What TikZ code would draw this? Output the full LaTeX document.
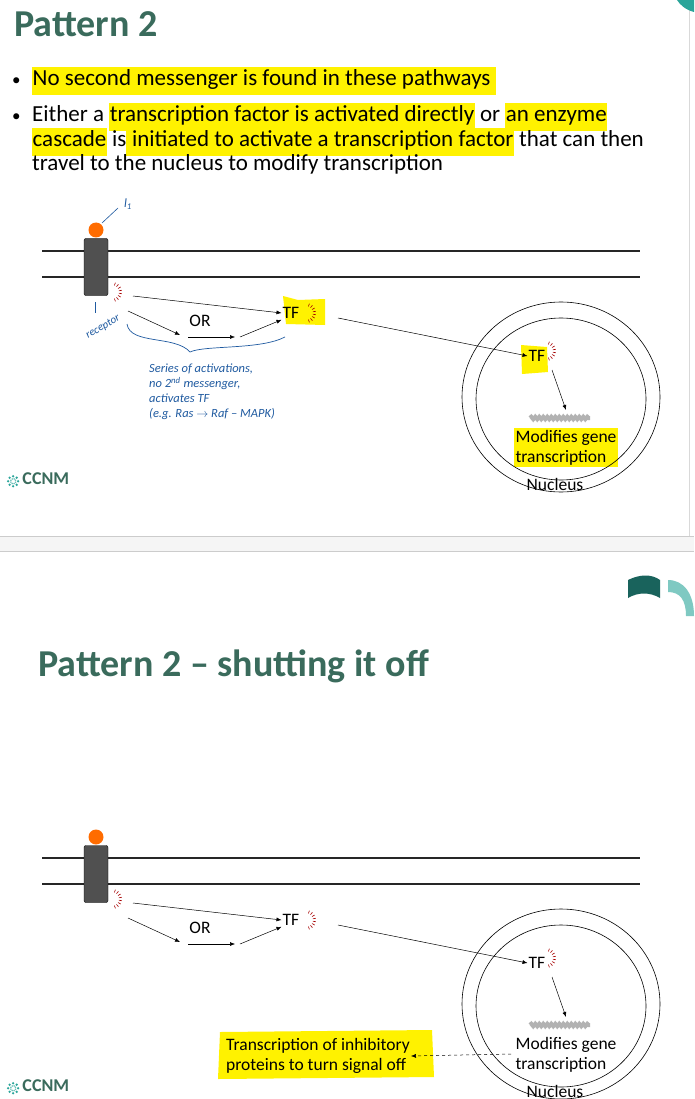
\documentclass[tikz,border=0pt]{standalone}
\usepackage{fontspec}
\setmainfont{Carlito}
\usetikzlibrary{arrows.meta,decorations.pathmorphing,shapes.geometric}
\definecolor{ttl}{HTML}{3A6B5C}
\definecolor{hly}{HTML}{FFF200}
\definecolor{pen}{HTML}{1F5AA0}
\definecolor{teal}{HTML}{2AA59A}
\definecolor{rcp}{HTML}{505050}
\newcommand\hlt[1]{{\setlength{\fboxsep}{0.5pt}\colorbox{hly}{\strut #1}}}
\tikzset{
  ar/.style={-{Latex[length=5pt,width=4pt]},line width=0.5pt},
  lbl/.style={font=\fontsize{17.5}{20}\selectfont,inner sep=1pt},
  hand/.style={font=\fontsize{12.5}{15}\selectfont\itshape,text=pen,inner sep=0pt},
  mem/.style={line width=1.4pt,draw=black!85},
  nuc/.style={draw,line width=0.6pt},
  marks/.pic={\foreach \a in {-70,-50,...,70}{\draw[red!65!black,line width=0.6pt] (\a:7) -- (\a:10);}},
}
\def\ding{\tikz[baseline=-3pt]{\foreach \a in {0,45,...,315}{\fill[teal] (\a:5pt) circle (1.3pt);\fill[teal!70] (\a+22:2.5pt) circle (0.9pt);}}\,}
\newcommand\diagram[1]{%
\begin{scope}[yshift=-#1pt]
 \draw[mem] (42,251) -- (640,251);
 \draw[mem] (42,277) -- (640,277);
 \node[draw=black,fill=rcp,rounded corners=2pt,minimum width=24pt,minimum height=57pt,inner sep=0pt] (rec#1) at (96,267) {};
 \node[circle,fill=orange!85!red,minimum size=15pt,inner sep=0pt] (lig#1) at (96,230) {};
 \pic at (112,292) {marks};
 \node[lbl] (or#1) at (200,321) {OR};
 \node[lbl] (tfa#1) at (291,313) {TF};
 \pic at (306,313) {marks};
 \coordinate (s1#1) at (133,296); \coordinate (s2#1) at (128,311);
 \coordinate (m1#1) at (180,335); \coordinate (m2#1) at (188,337);
 \coordinate (m3#1) at (235,337); \coordinate (m4#1) at (240,337);
 \draw[ar] (s1#1) -- (tfa#1.west);
 \draw[ar] (s2#1) -- (m1#1);
 \draw[ar] (m2#1) -- (m3#1);
 \draw[ar] (m4#1) -- (tfa#1.south west);
 \node[nuc,ellipse,minimum width=198pt,minimum height=190pt] (outer#1) at (561,397) {};
 \node[nuc,ellipse,minimum width=170pt,minimum height=162pt] (inner#1) at (561,399) {};
 \node[lbl] (tfb#1) at (537,356) {TF};
 \pic at (546,351) {marks};
 \coordinate (t0#1) at (338,318);
 \draw[ar] (t0#1) -- (tfb#1.west);
 \draw[gray!60,line width=4pt,decorate,decoration={snake,amplitude=1.2pt,segment length=4pt}] (530,418) -- (590,418);
 \coordinate (dna#1) at (566,410);
 \draw[ar] (552,370) -- (dna#1);
 \node[lbl,align=left] (mod#1) at (566,448) {Modifies gene\\transcription};
 \node[lbl] (nu#1) at (555,484) {Nucleus};
 \node[text=ttl,font=\fontsize{18}{20}\selectfont\bfseries] (ccnm#1) at (38,480) {\ding CCNM};
\end{scope}}
\begin{document}
\begin{tikzpicture}[x=1pt,y=-1pt]
\useasboundingbox (0,0) rectangle (694,1099);
\fill[white] (0,0) rectangle (694,1099);
\fill[gray!8] (0,536) rectangle (694,551);
\draw[gray!40] (0,536) -- (694,536);
\draw[gray!40] (0,551) -- (694,551);
\draw[gray!30] (689,0) -- (689,536);
\fill[teal] (677,0) -- (694,0) -- (694,12) .. controls (686,10) and (680,5) .. (677,0);
\fill[teal!60!black] (628,598) -- (628,580) .. controls (640,574) and (652,574) .. (660,580) -- (660,598) .. controls (650,592) and (638,592) .. (628,598);
\fill[teal!60] (668,580) .. controls (684,580) and (694,594) .. (694,616) -- (686,616) .. controls (686,600) and (680,592) .. (668,592) -- cycle;
\node[anchor=base west,text=ttl,font=\fontsize{38}{44}\selectfont\bfseries,inner sep=0pt] (t1) at (14,37) {Pattern 2};
\node[anchor=base west,text=ttl,font=\fontsize{38}{44}\selectfont\bfseries,inner sep=0pt] (t2) at (38,676) {Pattern 2 -- shutting it off};
\begin{scope}[every node/.style={anchor=base west,inner sep=0pt,font=\fontsize{23}{27}\selectfont}]
\node[font=\fontsize{17}{20}\selectfont] (b1) at (12,86) {•};
\node (l1) at (32,86) {\hlt{No second messenger is found in these pathways }};
\node[font=\fontsize{17}{20}\selectfont] (b2) at (12,122) {•};
\node (l2) at (32,122) {Either a \hlt{transcription factor is activated directly} or \hlt{an enzyme}};
\node (l3) at (32,147) {\hlt{cascade} is\hlt{ initiated to activate a transcription factor} that can then};
\node (l4) at (32,171) {travel to the nucleus to modify transcription};
\end{scope}
\fill[hly] (283,296) -- (298,300) -- (325,299) -- (325,325) -- (286,324) -- cycle;
\fill[hly] (521,345) -- (547,347) -- (548,372) -- (522,374) -- cycle;
\fill[hly] (514,428) rectangle (618,467);
\fill[hly] (220,1032) -- (432,1030) -- (434,1077) -- (218,1079) -- cycle;
\diagram{0}
\diagram{607}
\draw[pen,line width=0.6pt] (102,223) -- (118,208);
\node[hand] (l1n) at (128,204) {l\textsubscript{1}};
\draw[pen,line width=0.6pt] (95,302) -- (95,313);
\node[hand,rotate=30,font=\fontsize{11}{13}\selectfont\itshape] (recn) at (103,327) {receptor};
\draw[pen,line width=0.7pt] (127,324) .. controls (130,345) and (175,335) .. (190,352) .. controls (205,345) and (260,350) .. (285,337);
\node[hand,align=left] (ser) at (212,392) {Series of activations,\\ no 2\textsuperscript{nd} messenger,\\ activates TF\\(e.g. Ras $\rightarrow$ Raf -- MAPK)};
\node[lbl,align=left] (inh) at (318,1056) {Transcription of inhibitory\\proteins to turn signal off};
\coordinate (dsrc) at (511,1054);
\draw[ar,dashed] (dsrc) -- (inh.east);
\end{tikzpicture}
\end{document}
